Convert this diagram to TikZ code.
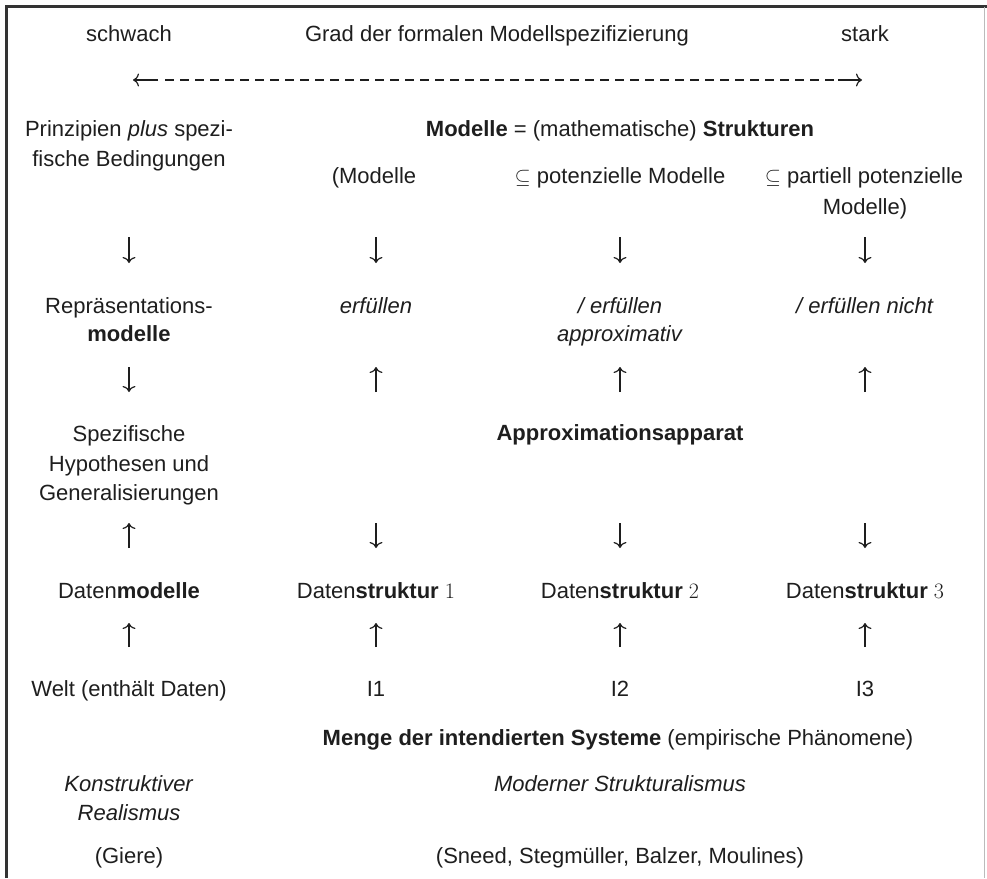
\documentclass[tikz,border=0pt]{standalone}
\usepackage{fontspec}
\newfontfamily\lsans{Liberation Sans}
\usetikzlibrary{arrows.meta}
\definecolor{ink}{HTML}{1E1E1E}
\definecolor{framec}{HTML}{333333}
\definecolor{rulec}{HTML}{BBBBBB}
\begin{document}
\begin{tikzpicture}[x=1pt,y=-1pt,
  txt/.style={anchor=base, inner sep=0pt, font=\lsans\fontsize{22}{30}\selectfont, text=ink},
  arr/.style={draw=ink, line width=1.2pt, -{To[length=6pt,width=13pt]}},
  dashline/.style={draw=ink, line width=1.2pt, dash pattern=on 9pt off 6pt},
  framebar/.style={draw=framec, line width=3pt},
  rightrule/.style={draw=rulec, line width=1pt}
]
\useasboundingbox (0,0) rectangle (987,878);
% frame
\draw[framebar] (6.5,878) -- (6.5,6.5) -- (987,6.5);
\draw[rightrule] (984,6.5) -- (984,878);

% header
\node[txt] (schwach) at (129,41) {schwach};
\node[txt] (grad) at (497,41) {Grad der formalen Modellspezifizierung};
\node[txt] (stark) at (865,41) {stark};

% dashed double arrow
\coordinate (la0) at (158,80); \coordinate (la1) at (133,80);
\coordinate (da0) at (165,80); \coordinate (da1) at (834,80);
\coordinate (ra0) at (838,80); \coordinate (ra1) at (862,80);
\draw[arr] (la0) -- (la1);
\draw[dashline] (da0) -- (da1);
\draw[arr] (ra0) -- (ra1);

% row: principles / models
\node[txt] (prinz1) at (129,136) {Prinzipien \textit{plus} spezi-};
\node[txt] (prinz2) at (129,166) {fische Bedingungen};
\node[txt] (modstr) at (620,136) {\textbf{Modelle} = (mathematische) \textbf{Strukturen}};
\node[txt] (mod1) at (374,183) {(Modelle};
\node[txt] (mod2) at (620,183) {$\subseteq$ potenzielle Modelle};
\node[txt] (mod3a) at (864,183) {$\subseteq$ partiell potenzielle};
\node[txt] (mod3b) at (865,214) {Modelle)};

% row: representation / erfuellen
\node[txt] (rep1) at (129,313) {Repräsentations-};
\node[txt] (rep2) at (129,341) {\textbf{modelle}};
\node[txt] (erf1) at (376,313) {\textit{erfüllen}};
\node[txt] (erf2a) at (620,313) {\textit{/ erfüllen}};
\node[txt] (erf2b) at (620,341) {\textit{approximativ}};
\node[txt] (erf3) at (865,313) {\textit{/ erfüllen nicht}};

% row: hypotheses / approximation
\node[txt] (hyp1) at (129,441) {Spezifische};
\node[txt] (hyp2) at (129,471) {Hypothesen und};
\node[txt] (hyp3) at (129,500) {Generalisierungen};
\node[txt] (approx) at (620,440) {\textbf{Approximationsapparat}};

% row: data
\node[txt] (dm) at (129,598) {Daten\textbf{modelle}};
\node[txt] (ds1) at (376,598) {Daten\textbf{struktur} {\rmfamily 1}};
\node[txt] (ds2) at (620,598) {Daten\textbf{struktur} {\rmfamily 2}};
\node[txt] (ds3) at (865,598) {Daten\textbf{struktur} {\rmfamily 3}};

% row: world
\node[txt] (welt) at (129,696) {Welt (enthält Daten)};
\node[txt] (i1) at (376,696) {I1};
\node[txt] (i2) at (620,696) {I2};
\node[txt] (i3) at (865,696) {I3};
\node[txt] (menge) at (618,745) {\textbf{Menge der intendierten Systeme} (empirische Phänomene)};

% bottom
\node[txt] (kr1) at (129,791) {\textit{Konstruktiver}};
\node[txt] (kr2) at (129,820) {\textit{Realismus}};
\node[txt] (ms) at (620,791) {\textit{Moderner Strukturalismus}};
\node[txt] (giere) at (129,863) {(Giere)};
\node[txt] (sneed) at (620,863) {(Sneed, Stegmüller, Balzer, Moulines)};

% vertical arrows
\foreach \c/\x in {0/129,1/376,2/620,3/865}{
  % row 1: all down
  \coordinate (r1t\c) at (\x,237); \coordinate (r1b\c) at (\x,263);
  \draw[arr] (r1t\c) -- (r1b\c);
  % row 4: all up
  \coordinate (r4t\c) at (\x,623); \coordinate (r4b\c) at (\x,647);
  \draw[arr] (r4b\c) -- (r4t\c);
  \coordinate (r2t\c) at (\x,367); \coordinate (r2b\c) at (\x,392);
  \coordinate (r3t\c) at (\x,523); \coordinate (r3b\c) at (\x,548);
}
% row 2: col 0 down, others up
\draw[arr] (r2t0) -- (r2b0);
\foreach \c in {1,2,3}{\draw[arr] (r2b\c) -- (r2t\c);}
% row 3: col 0 up, others down
\draw[arr] (r3b0) -- (r3t0);
\foreach \c in {1,2,3}{\draw[arr] (r3t\c) -- (r3b\c);}
\end{tikzpicture}
\end{document}
